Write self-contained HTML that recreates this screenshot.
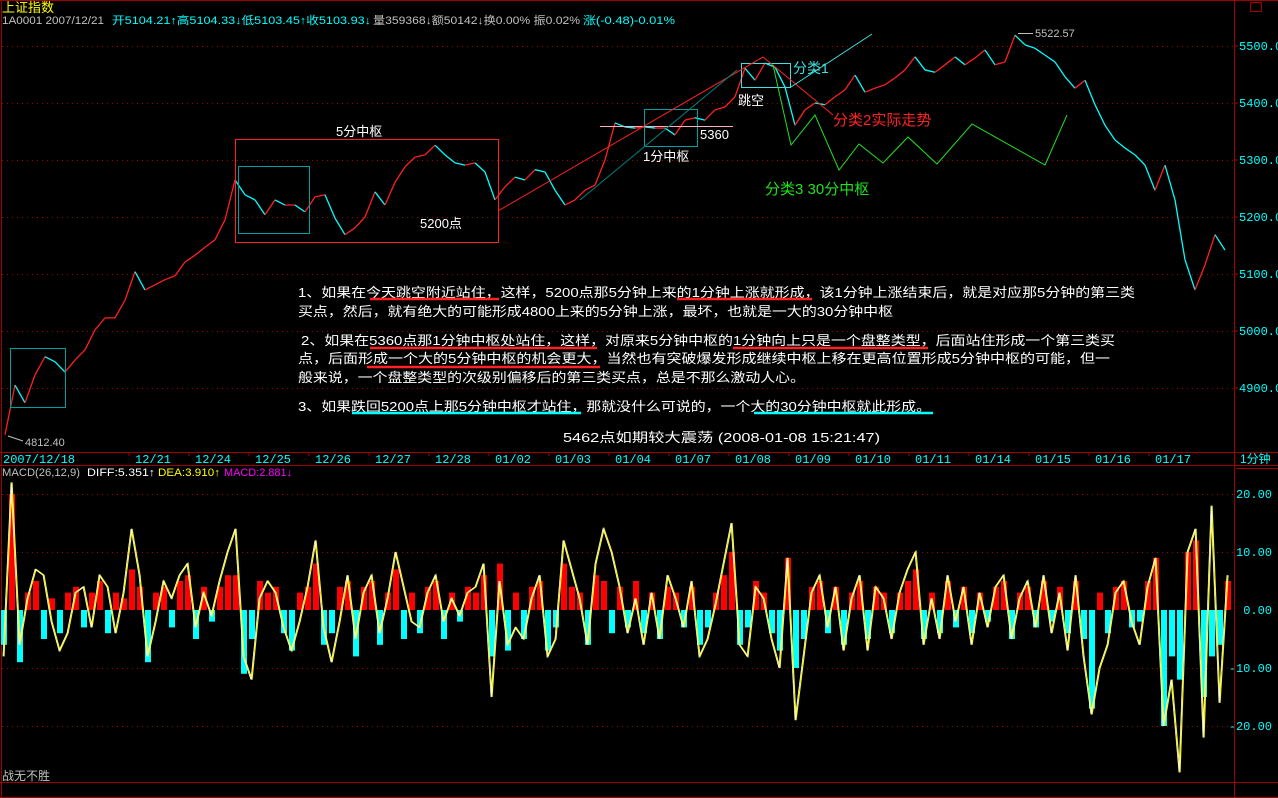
<!DOCTYPE html>
<html><head><meta charset="utf-8"><style>
html,body{margin:0;padding:0;background:#000;width:1278px;height:798px;overflow:hidden}
svg{display:block}
text{font-family:"Liberation Sans","WenQuanYi Zen Hei","Noto Sans CJK SC",sans-serif}
.ax{font-family:"Liberation Mono","WenQuanYi Zen Hei",monospace;font-size:12px;fill:#00ffff}
.grid{stroke:#a00000;stroke-width:1;stroke-dasharray:1 4}
</style></head><body>
<svg id="chart" width="1278" height="798" viewBox="0 0 1278 798">
<rect width="1278" height="798" fill="#000"/>
<g stroke="#a00000" fill="none">
<line x1="0" y1="0.5" x2="1278" y2="0.5"/>
<line x1="1.5" y1="0" x2="1.5" y2="798"/>
<line x1="1234.5" y1="0" x2="1234.5" y2="798"/>
<line x1="0" y1="452.5" x2="1278" y2="452.5"/>
<line x1="0" y1="465.5" x2="1278" y2="465.5"/>
<line x1="1236" y1="468.5" x2="1278" y2="468.5"/>
<line x1="0" y1="782.5" x2="1278" y2="782.5"/>
<line x1="0" y1="797.5" x2="1278" y2="797.5"/>
<rect x="1250.5" y="2.5" width="11" height="9"/>
</g>
<text x="2" y="12" font-size="13" fill="#ffff00">上证指数</text>
<g font-size="11">
<text x="2" y="24" fill="#c0c0c0" textLength="102" lengthAdjust="spacingAndGlyphs">1A0001 2007/12/21</text>
<text x="112" y="24" fill="#00ffff" textLength="259" lengthAdjust="spacingAndGlyphs">开5104.21↑高5104.33↓低5103.45↑收5103.93↓</text>
<text x="373" y="24" fill="#c0c0c0" textLength="207" lengthAdjust="spacingAndGlyphs">量359368↓额50142↓换0.00% 振0.02%</text>
<text x="583" y="24" fill="#00ffff" textLength="92" lengthAdjust="spacingAndGlyphs">涨(-0.48)-0.01%</text>
</g>
<g id="pgrid"></g>
<g id="paxis"></g>
<g id="maxis"></g>
<g id="dates"></g>
<g id="macd"></g>
<g font-size="13" fill="#ffffff">
<text x="298" y="297" textLength="837" lengthAdjust="spacingAndGlyphs">1、如果在今天跳空附近站住，这样，5200点那5分钟上来的1分钟上涨就形成，该1分钟上涨结束后，就是对应那5分钟的第三类</text>
<text x="298" y="316" textLength="595" lengthAdjust="spacingAndGlyphs">买点，然后，就有绝大的可能形成4800上来的5分钟上涨，最坏，也就是一大的30分钟中枢</text>
<text x="301" y="345" textLength="814" lengthAdjust="spacingAndGlyphs">2、如果在5360点那1分钟中枢处站住，这样，对原来5分钟中枢的1分钟向上只是一个盘整类型，后面站住形成一个第三类买</text>
<text x="298" y="363" textLength="812" lengthAdjust="spacingAndGlyphs">点，后面形成一个大的5分钟中枢的机会更大，当然也有突破爆发形成继续中枢上移在更高位置形成5分钟中枢的可能，但一</text>
<text x="298" y="382" textLength="507" lengthAdjust="spacingAndGlyphs">般来说，一个盘整类型的次级别偏移后的第三类买点，总是不那么激动人心。</text>
<text x="298" y="411" textLength="633" lengthAdjust="spacingAndGlyphs">3、如果跌回5200点上那5分钟中枢才站住，那就没什么可说的，一个大的30分钟中枢就此形成。</text>
<text x="563" y="442" textLength="317" lengthAdjust="spacingAndGlyphs">5462点如期较大震荡  (2008-01-08 15:21:47)</text>
</g>
<g stroke-width="2.5">
<line x1="370" y1="299" x2="499" y2="299" stroke="#ff2020"/>
<line x1="677" y1="299" x2="812" y2="299" stroke="#ff2020"/>
<line x1="370" y1="348" x2="597" y2="348" stroke="#ff2020"/>
<line x1="733" y1="348" x2="928" y2="348" stroke="#ff2020"/>
<line x1="367" y1="367" x2="600" y2="367" stroke="#ff2020"/>
<line x1="352" y1="413" x2="581" y2="413" stroke="#00ffff"/>
<line x1="754" y1="413" x2="933" y2="413" stroke="#00ffff"/>
</g>
<g id="price"></g>
<g fill="none" stroke-width="1">
<rect x="235.5" y="139.5" width="263" height="103" stroke="#ff2020"/>
<rect x="238.5" y="166.5" width="71" height="67" stroke="#00a0a0"/>
<rect x="10.5" y="348.5" width="55" height="59" stroke="#00a0a0"/>
<rect x="644.5" y="109.5" width="53" height="37" stroke="#00a0a0"/>
<rect x="741.5" y="63.5" width="49" height="24" stroke="#40e0e0"/>
<line x1="600" y1="126.5" x2="733" y2="126.5" stroke="#ffb0c0"/>
<polyline points="498,211 763,57 833,115" stroke="#ff2020"/>
<polyline points="580,200 737,70" stroke="#008080"/>
<polyline points="791,87 872,34" stroke="#40e0e0"/>
<polyline points="773,65 791,145 815,115 839,170 859,144 883,163 908,137 937,164 972,124 1045,165 1067,115" stroke="#20e020"/>
<line x1="8" y1="436" x2="23" y2="441" stroke="#c0c0c0"/>
<line x1="1018" y1="33.5" x2="1033" y2="33.5" stroke="#c0c0c0"/>
</g>
<g>
<text x="336" y="136" font-size="13" fill="#fff">5分中枢</text>
<text x="420" y="228" font-size="13" fill="#fff">5200点</text>
<text x="643" y="161" font-size="13" fill="#fff">1分中枢</text>
<text x="700" y="139" font-size="13" fill="#fff">5360</text>
<text x="738" y="105" font-size="13" fill="#fff">跳空</text>
<text x="793" y="73" font-size="14" fill="#40e0e0">分类1</text>
<text x="833" y="125" font-size="15" fill="#ff2020">分类2实际走势</text>
<text x="765" y="194" font-size="15" fill="#20e020">分类3 30分中枢</text>
<text x="1035" y="37" font-size="11" fill="#c0c0c0">5522.57</text>
<text x="25" y="446" font-size="11" fill="#c0c0c0">4812.40</text>
</g>
<g font-size="11">
<text x="2" y="476" fill="#c0c0c0" textLength="78" lengthAdjust="spacingAndGlyphs">MACD(26,12,9)</text>
<text x="87" y="476" fill="#ffffff" textLength="68" lengthAdjust="spacingAndGlyphs">DIFF:5.351↑</text>
<text x="158" y="476" fill="#ffff00" textLength="62" lengthAdjust="spacingAndGlyphs">DEA:3.910↑</text>
<text x="224" y="476" fill="#ff00ff" textLength="68" lengthAdjust="spacingAndGlyphs">MACD:2.881↓</text>
</g>
<text x="1240" y="463" font-size="12" fill="#00ffff">1分钟</text>
<text x="2" y="780" font-size="12" fill="#c0c0c0">战无不胜</text>
</svg>
<script>
const priceLevels=[5500,5400,5300,5200,5100,5000,4900];
const macdLevels=[20,10,0,-10,-20];
const dateLabels=["2007/12/18","12/21","12/24","12/25","12/26","12/27","12/28","01/02","01/03","01/04","01/07","01/08","01/09","01/10","01/11","01/14","01/15","01/16","01/17"];
const prices=[4818,4905,4874,4923,4955,4946,4928,4949,4967,5002,5023,5023,5054,5104,5072,5081,5090,5097,5121,5133,5147,5160,5195,5265,5239,5230,5204,5230,5221,5221,5209,5235,5239,5198,5169,5181,5200,5244,5221,5261,5288,5305,5309,5326,5309,5295,5291,5295,5279,5230,5253,5270,5265,5283,5279,5247,5221,5230,5247,5256,5300,5365,5358,5356,5358,5356,5356,5344,5370,5374,5370,5388,5393,5411,5461,5440,5470,5463,5428,5361,5388,5400,5397,5411,5423,5449,5419,5426,5432,5444,5458,5481,5458,5454,5467,5481,5467,5479,5493,5467,5472,5519,5502,5496,5484,5472,5446,5426,5440,5397,5361,5335,5321,5309,5291,5247,5291,5230,5125,5072,5116,5169,5142];
const macdHist=[-6,20,-9,3,5,-5,2,-4,3,4,-3,3,5,-4,3,2,7,4,-9,3,4,-3,5,6,-5,4,-2,4,6,6,-11,-5,5,3,4,-4,-7,3,4,8,-6,-4,4,5,-8,4,5,-6,3,7,-5,3,-4,4,5,-5,3,-2,4,3,6,-8,8,-7,3,-5,4,5,-7,-3,8,4,3,-6,6,5,-4,4,-3,5,-4,3,-5,4,3,-3,4,-6,-3,3,6,10,-6,-3,5,3,-4,-7,9,-10,-5,4,5,-4,4,-6,3,5,-5,4,3,-4,3,5,7,-5,3,-4,5,-3,4,-4,3,-2,4,5,-5,3,4,-3,5,-2,4,-4,5,-5,-17,3,-4,4,5,-3,-2,5,9,-20,-8,-12,10,12,-15,-8,-6,5];
const macdDiff=[-8,22,-6,2,7,6,-2,-7,-4,3,4,-3,6,4,-4,3,14,6,-8,-2,5,2,6,8,-3,3,-1,5,10,14,-8,-12,2,5,3,-3,-7,-2,4,12,-3,-9,-2,6,-5,3,6,-4,2,10,4,-2,-3,3,6,-2,2,-1,3,4,8,-15,5,-6,-3,-5,2,6,-8,-5,12,7,2,-6,8,14,10,4,-4,2,-6,3,-5,6,2,-3,5,-8,-5,1,8,15,-6,-8,4,2,-5,-10,9,-19,-8,3,6,-3,4,-7,2,6,-7,4,2,-5,3,7,10,-6,2,-5,6,-2,4,-6,3,-3,4,6,-5,2,5,-3,6,-4,3,-7,6,-8,-18,-10,-6,3,5,-2,-6,4,9,-20,-12,-28,10,14,-22,18,-16,6];

const NS="http://www.w3.org/2000/svg";
function mk(tag,attrs,parent,txt){const e=document.createElementNS(NS,tag);for(const k in attrs)e.setAttribute(k,attrs[k]);if(txt!==undefined)e.textContent=txt;parent.appendChild(e);return e;}
const py=p=>46+(5500-p)*0.57;
const px=i=>5+i*10;
const my=v=>610-v*5.8;
const mx=i=>4+i*8;
const dx=i=>i===0?3:135+(i-1)*60;

const pg=document.getElementById('pgrid'),pa=document.getElementById('paxis');
priceLevels.forEach(p=>{
  const l=mk('line',{x1:2,x2:1234,y1:Math.round(py(p))+0.5,y2:Math.round(py(p))+0.5,class:'grid'},pg);
  
  
  const t=mk('text',{x:1239,y:py(p)+4,class:'ax'},pa,p.toFixed(1));
  
  
  mk('line',{x1:1234,x2:1238,y1:py(p),y2:py(p),stroke:'#a00000'},pa);
});
const ma=document.getElementById('maxis');
macdLevels.forEach(v=>{
  if(v!==0){const l=mk('line',{x1:2,x2:1234,y1:Math.round(my(v))+0.5,y2:Math.round(my(v))+0.5,class:'grid'},ma);
  
  }
  const s=v.toFixed(2);
  const t=mk('text',{x:1272,y:my(v)+4,class:'ax','text-anchor':'end'},ma,s);
  
  
});
const dg=document.getElementById('dates');
dateLabels.forEach((d,i)=>{
  const t=mk('text',{x:dx(i),y:463,class:'ax'},dg,d);
  
  
  mk('line',{x1:dx(i)-6,x2:dx(i)-6,y1:453,y2:456,stroke:'#a00000'},dg);
});
const pr=document.getElementById('price');
for(let i=1;i<prices.length;i++){
  const up=prices[i]>=prices[i-1];
  const l=mk('line',{x1:px(i-1),y1:py(prices[i-1]),x2:px(i),y2:py(prices[i]),stroke:up?'#ff2020':'#00ffff','stroke-width':1.3},pr);
  
  
}
const mg=document.getElementById('macd');
macdHist.forEach((v,i)=>{
  const y0=my(0),y1=my(v);
  const r=mk('rect',{x:mx(i)-3,y:Math.min(y0,y1),width:6,height:Math.abs(y1-y0),fill:v>=0?'#ff0000':'#00ffff'},mg);
  
  
});
const dpts=macdDiff.map((v,i)=>mx(i)+','+my(v)).join(' ');
const dl=mk('polyline',{points:dpts,fill:'none',stroke:'#ffff00','stroke-width':1.2},mg);


const wl=mk('polyline',{points:dpts,fill:'none',stroke:'#ffffff','stroke-width':0.8,transform:'translate(-1,0)'},mg);


</script>
</body></html>
